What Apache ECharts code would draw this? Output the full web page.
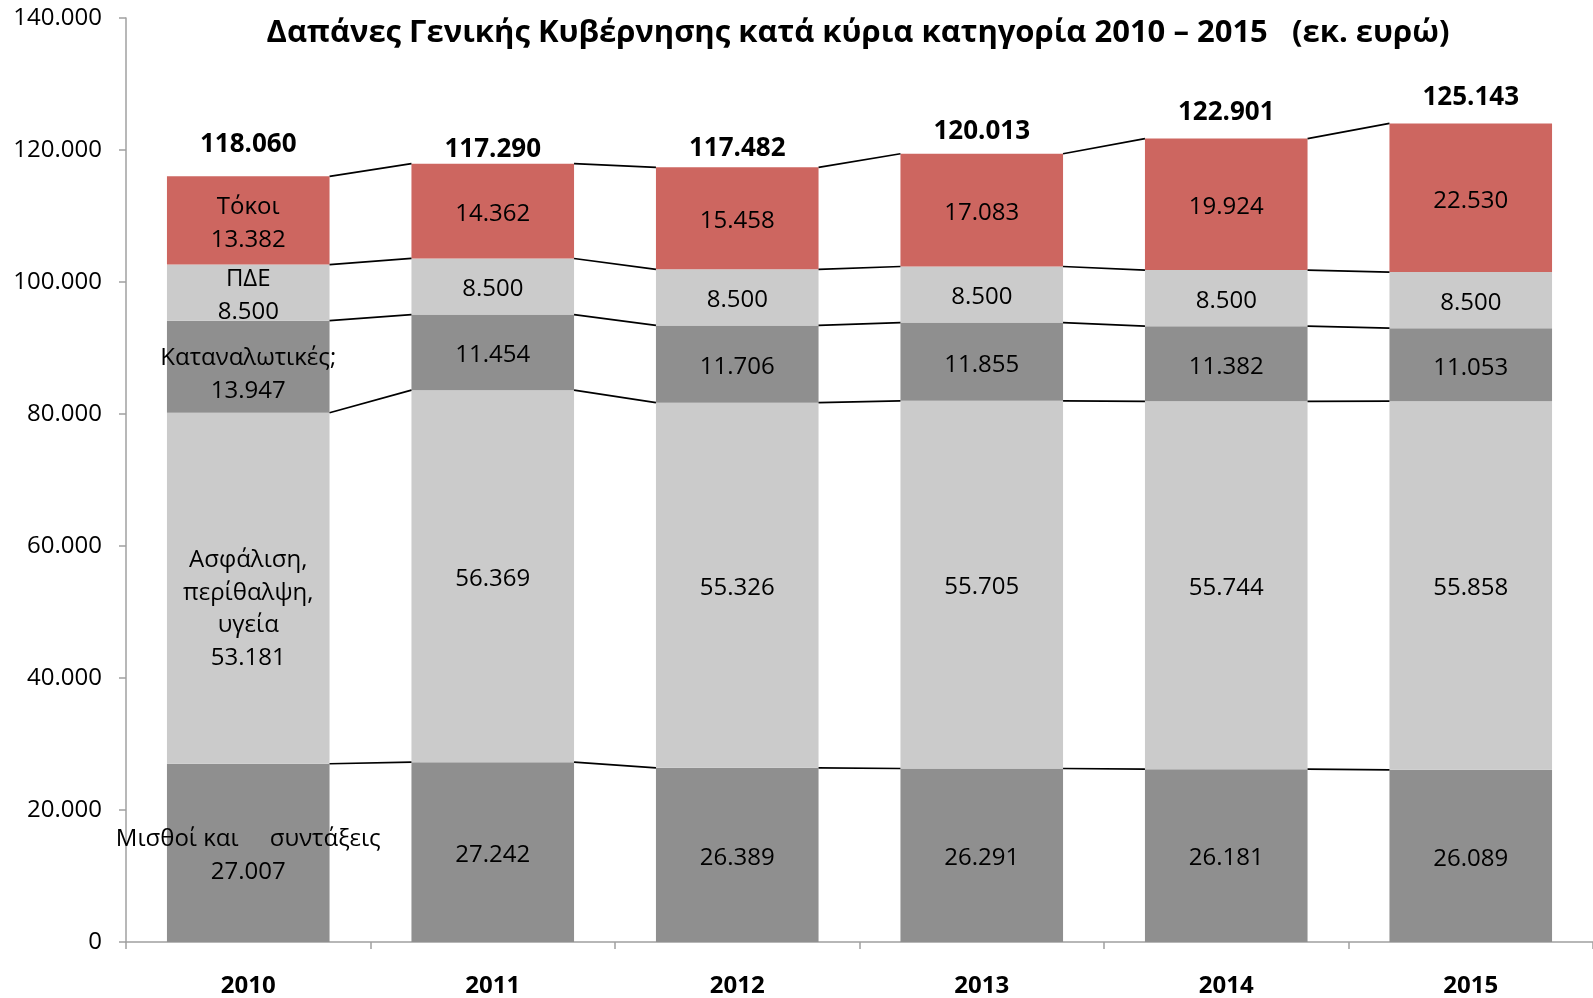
<!DOCTYPE html>
<html><head><meta charset="utf-8">
<script src="https://cdn.jsdelivr.net/npm/echarts@6/dist/echarts.min.js"></script>
<style>html,body{margin:0;padding:0;background:#fff}#c{width:1593px;height:998px}</style>
</head><body><div id="c"></div>
<script>
const years = ['2010', '2011', '2012', '2013', '2014', '2015'];
const salaries = [27007, 27242, 26389, 26291, 26181, 26089];
const insurance = [53181, 56369, 55326, 55705, 55744, 55858];
const consumption = [13947, 11454, 11706, 11855, 11382, 11053];
const pde = [8500, 8500, 8500, 8500, 8500, 8500];
const interest = [13382, 14362, 15458, 17083, 19924, 22530];
const totals = [118060, 117290, 117482, 120013, 122901, 125143];
const seriesNames = ['Μισθοί και συντάξεις', 'Ασφάλιση, περίθαλψη, υγεία', 'Καταναλωτικές', 'ΠΔΕ', 'Τόκοι'];
const firstBarNames = ['Μισθοί και     συντάξεις', 'Ασφάλιση,\nπερίθαλψη,\nυγεία', 'Καταναλωτικές;', 'ΠΔΕ', 'Τόκοι'];
const yMin = 0, yMax = 140000, yStep = 20000;
const titleText = 'Δαπάνες Γενικής Κυβέρνησης κατά κύρια κατηγορία 2010 – 2015   (εκ. ευρώ)';

const FONT = '"Open Sans", "Noto Sans", sans-serif';
const fmt = v => String(v).replace(/\B(?=(\d{3})+(?!\d))/g, '.');
const stacks = [salaries, insurance, consumption, pde, interest];
const colors = ['#8f8f8f', '#cbcbcb', '#8f8f8f', '#cbcbcb', '#cd6660'];
const BAR_FRAC = 0.665;
// extra vertical nudge (px) for the first bar's named labels, as placed in the original
const firstLabelNudge = [0, 18, 5, 0, 0];

// cumulative tops
const cum = stacks.map((_, k) => years.map((_, i) => {
  let s = 0; for (let j = 0; j <= k; j++) s += stacks[j][i]; return s;
}));

const barSeries = stacks.map((arr, k) => ({
  name: seriesNames[k],
  type: 'bar',
  stack: 'total',
  barWidth: (BAR_FRAC * 100) + '%',
  data: arr.map((v, i) => (i === 0 && firstLabelNudge[k])
    ? { value: v, label: { offset: [0, 3 + firstLabelNudge[k]] } } : v),
  itemStyle: { color: colors[k] },
  label: {
    show: true,
    position: 'inside',
    offset: [0, 3],
    color: '#000',
    fontFamily: FONT,
    fontSize: 24,
    lineHeight: 32.5,
    formatter: p => p.dataIndex === 0 ? firstBarNames[k] + '\n' + fmt(p.value) : fmt(p.value)
  }
}));

const connector = {
  type: 'custom',
  silent: true,
  z: 5,
  data: years.map((y, i) => [i, totals[i]]),
  encode: { x: 0, y: 1 },
  renderItem: (params, api) => {
    const i = api.value(0);
    const band = api.size([1, 0])[0];
    const half = band * BAR_FRAC / 2;
    const children = [];
    if (i < years.length - 1) {
      for (let k = 0; k < cum.length; k++) {
        const a = api.coord([i, cum[k][i]]);
        const b = api.coord([i + 1, cum[k][i + 1]]);
        children.push({
          type: 'line',
          shape: { x1: a[0] + half, y1: a[1], x2: b[0] - half, y2: b[1] },
          style: { stroke: '#000', lineWidth: 1.7 }
        });
      }
    }
    const t = api.coord([i, totals[i]]);
    children.push({
      type: 'text',
      x: t[0], y: t[1] - 18,
      style: {
        text: fmt(totals[i]),
        fill: '#000',
        font: 'bold 26px ' + FONT,
        align: 'center',
        verticalAlign: 'middle'
      }
    });
    return { type: 'group', children };
  }
};

const chart = echarts.init(document.getElementById('c'));
chart.setOption({
  animation: false,
  backgroundColor: '#fff',
  title: {
    text: titleText,
    left: 853, top: 28, textAlign: 'center', textVerticalAlign: 'middle',
    textStyle: { fontFamily: FONT, fontWeight: 'bold', fontSize: 31, color: '#000' }
  },
  grid: { left: 126, right: -11, top: 18, bottom: 55, containLabel: false },
  xAxis: {
    type: 'category',
    data: years,
    axisLine: { lineStyle: { color: '#a0a0a0', width: 1.5 } },
    axisTick: { show: true, length: 7, lineStyle: { color: '#a0a0a0', width: 1.5 } },
    axisLabel: { margin: 32, color: '#000', fontFamily: FONT, fontWeight: 'bold', fontSize: 24 }
  },
  yAxis: {
    type: 'value',
    min: yMin, max: yMax, interval: yStep,
    splitLine: { show: false },
    axisLine: { show: true, lineStyle: { color: '#a0a0a0', width: 1.5 } },
    axisTick: { show: true, length: 7, lineStyle: { color: '#a0a0a0', width: 1.5 } },
    axisLabel: { margin: 24, color: '#000', fontFamily: FONT, fontSize: 24, formatter: v => fmt(v) }
  },
  series: [...barSeries, connector]
});
</script></body></html>
